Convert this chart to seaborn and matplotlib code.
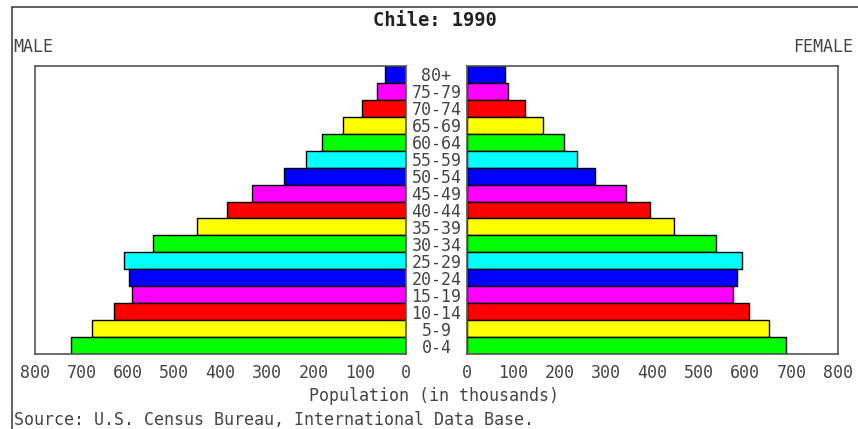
import matplotlib
matplotlib.use("Agg")
import matplotlib.pyplot as plt
from matplotlib.lines import Line2D
import pandas as pd
import seaborn as sns

# Chile 1990 population by age group (thousands)
ages = ["0-4", "5-9", "10-14", "15-19", "20-24", "25-29", "30-34", "35-39",
        "40-44", "45-49", "50-54", "55-59", "60-64", "65-69", "70-74", "75-79", "80+"]
male = [723, 677, 629, 591, 597, 608, 545, 450, 386, 333, 264, 215, 182, 135, 94, 63, 45]
female = [688, 652, 608, 573, 583, 594, 538, 447, 394, 343, 277, 238, 209, 163, 125, 89, 82]
color_cycle = ["#00ff00", "#ffff00", "#ff0000", "#ff00ff", "#0000ff", "#00ffff"]
ticks = [0, 100, 200, 300, 400, 500, 600, 700, 800]

df = pd.DataFrame({"age": ages, "male": male, "female": female})
palette = {a: color_cycle[i % len(color_cycle)] for i, a in enumerate(ages)}
order = ages[::-1]

sns.set_style("white")
plt.rcParams["font.family"] = ["DejaVu Sans Mono"]

W, H = 858, 429
fig = plt.figure(figsize=(W / 100, H / 100), dpi=100)

def box(x0, y0, x1, y1):
    return [x0 / W, 1 - y1 / H, (x1 - x0) / W, (y1 - y0) / H]

ax_m = fig.add_axes(box(35, 66, 406, 354))
ax_f = fig.add_axes(box(467, 66, 838, 354))

txt = "#444444"
for ax, col in [(ax_m, "male"), (ax_f, "female")]:
    sns.barplot(data=df, x=col, y="age", hue="age", order=order, hue_order=order,
                palette=palette, orient="h", width=1.0, edgecolor="black",
                linewidth=1.0, legend=False, saturation=1, ax=ax)
    ax.set_xticks(ticks)
    ax.set_xticklabels([str(t) for t in ticks])
    ax.tick_params(axis="x", direction="out", length=4, width=1, color="#555555",
                   pad=3, labelsize=12, labelcolor=txt)
    ax.set_xlabel("")
    ax.set_ylabel("")
    for s in ax.spines.values():
        s.set_visible(True)
        s.set_color("#555555")
        s.set_linewidth(1.2)
    ax.set_ylim(len(ages) - 0.5, -0.5)

ax_m.set_xlim(800, 0)
ax_m.set_yticks([])
ax_f.set_xlim(0, 800)
ax_f.tick_params(axis="y", length=0, pad=22, labelsize=12, labelcolor=txt)
for lbl in ax_f.get_yticklabels():
    lbl.set_horizontalalignment("center")

fig.text(435 / W, 1 - 20 / H, "Chile: 1990", ha="center", va="center",
         fontsize=13.5, fontweight="bold", color="#222222")
fig.text(13 / W, 1 - 47 / H, "MALE", ha="left", va="center", fontsize=12, color=txt)
fig.text(853 / W, 1 - 47 / H, "FEMALE", ha="right", va="center", fontsize=12, color=txt)
fig.text(434 / W, 1 - 396 / H, "Population (in thousands)", ha="center", va="center",
         fontsize=12, color=txt)
fig.text(14 / W, 1 - 420 / H, "Source: U.S. Census Bureau, International Data Base.",
         ha="left", va="center", fontsize=12, color=txt)

# outer frame (left and top edges visible in the crop)
fig.add_artist(Line2D([12 / W, 12 / W], [0, 1 - 7 / H], color="#444444", linewidth=1.2))
fig.add_artist(Line2D([12 / W, 1], [1 - 7 / H, 1 - 7 / H], color="#444444", linewidth=1.2))

fig.savefig("out.png", dpi=100, facecolor="white")
plt.close(fig)
